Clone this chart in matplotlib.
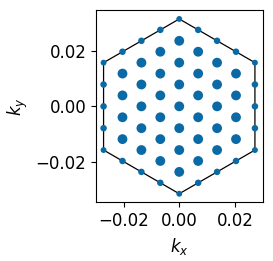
import numpy as np
import matplotlib
matplotlib.use("Agg")
import matplotlib.pyplot as plt

plt.rcParams["font.size"] = 12

# Brillouin-zone radius (corner distance) and k-point grid
R = 0.0314
# lattice indices: kx = i * R*sqrt(3)/8, ky = j * R/8
col_i = [-4, -3, -2, -1, 0, 1, 2, 3, 4]
col_j = [
    [-4, -2, 0, 2, 4],
    [-5, -3, -1, 1, 3, 5],
    [-6, -4, -2, 0, 2, 4, 6],
    [-7, -5, -3, -1, 1, 3, 5, 7],
    [-8, -6, -4, -2, 0, 2, 4, 6, 8],
    [-7, -5, -3, -1, 1, 3, 5, 7],
    [-6, -4, -2, 0, 2, 4, 6],
    [-5, -3, -1, 1, 3, 5],
    [-4, -2, 0, 2, 4],
]
size_interior, size_edge, size_corner = 50, 22, 18

kx, ky, s = [], [], []
for i, js in zip(col_i, col_j):
    for j in js:
        kx.append(i * R * np.sqrt(3) / 8)
        ky.append(j * R / 8)
        on_vert = abs(i) == 4
        on_slant = abs(j) == 8 - abs(i)
        if (on_vert and on_slant) or (i == 0 and abs(j) == 8):
            s.append(size_corner)
        elif on_vert or on_slant:
            s.append(size_edge)
        else:
            s.append(size_interior)
kx = np.array(kx); ky = np.array(ky); s = np.array(s)

ang = np.deg2rad(90 + 60 * np.arange(7))
hx = R * np.cos(ang)
hy = R * np.sin(ang)

fig = plt.figure(figsize=(2.73, 2.61), dpi=100)
ax = fig.add_axes([96 / 273, (261 - 202.7) / 261, 166.5 / 273, 192.7 / 261])
ax.plot(hx, hy, color="black", lw=0.9, zorder=1)
ax.scatter(kx, ky, s=s, color="#0a6aa6", zorder=2, linewidths=0)
ax.set_aspect("equal", adjustable="box")
ax.set_xticks([-0.02, 0.0, 0.02])
ax.set_yticks([-0.02, 0.0, 0.02])
ax.set_xlabel("$k_x$")
ax.set_ylabel("$k_y$")
fig.savefig("out.png", dpi=100)
